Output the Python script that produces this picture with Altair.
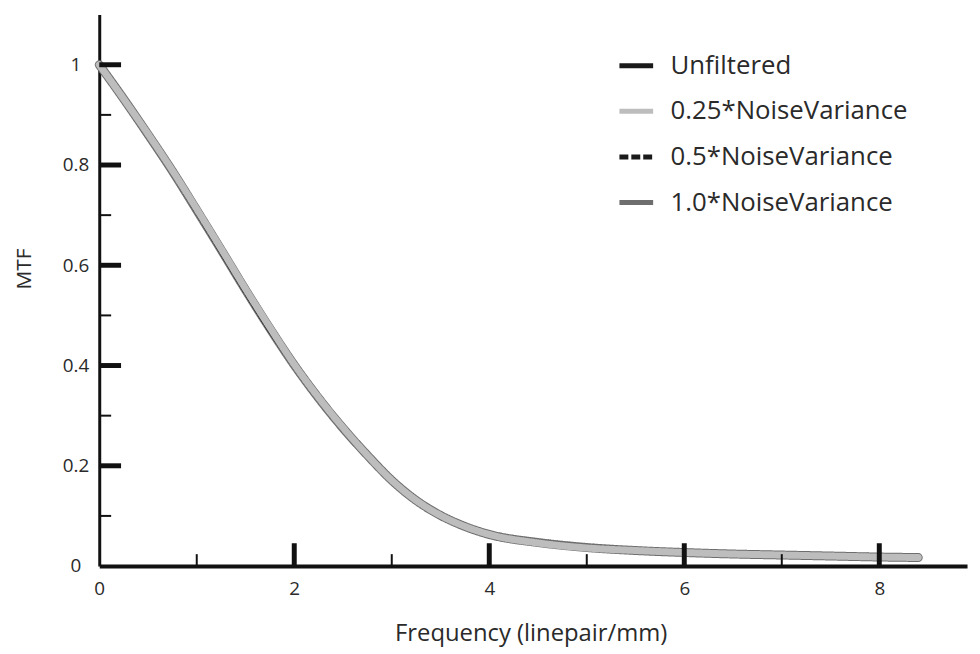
import altair as alt
import pandas as pd

# ---- data ----
freq = [0, 0.25, 0.5, 0.75, 1.0, 1.25, 1.5, 1.75, 2.0, 2.25, 2.5, 2.75, 3.0,
        3.25, 3.5, 3.75, 4.0, 4.5, 5.0, 5.5, 6.0, 6.5, 7.0, 7.5, 8.0, 8.4]
unfiltered = [1.0, 0.930, 0.858, 0.783, 0.705, 0.625, 0.545, 0.468, 0.396, 0.331,
              0.272, 0.218, 0.168, 0.129, 0.099, 0.077, 0.061, 0.045, 0.035, 0.030,
              0.026, 0.023, 0.021, 0.019, 0.017, 0.016]
nv025 = [1.0, 0.932, 0.862, 0.789, 0.712, 0.633, 0.553, 0.476, 0.402, 0.336,
         0.276, 0.221, 0.171, 0.131, 0.101, 0.079, 0.063, 0.046, 0.036, 0.031,
         0.027, 0.024, 0.022, 0.020, 0.018, 0.017]
nv05 = [1.0, 0.929, 0.857, 0.782, 0.704, 0.624, 0.544, 0.467, 0.396, 0.331,
        0.272, 0.219, 0.169, 0.130, 0.100, 0.078, 0.062, 0.046, 0.036, 0.031,
        0.027, 0.024, 0.022, 0.020, 0.018, 0.017]
nv10 = [1.0, 0.932, 0.861, 0.788, 0.710, 0.631, 0.551, 0.474, 0.401, 0.335,
        0.275, 0.221, 0.171, 0.131, 0.101, 0.079, 0.063, 0.047, 0.037, 0.031,
        0.027, 0.024, 0.022, 0.020, 0.018, 0.017]

series_names = ["Unfiltered", "0.25*NoiseVariance", "0.5*NoiseVariance", "1.0*NoiseVariance"]
series_values = [unfiltered, nv025, nv05, nv10]
series_colors = ["#1a1a1a", "#bdbdbd", "#1a1a1a", "#6e6e6e"]
series_dash = [[1, 0], [1, 0], [9, 3], [1, 0]]

x_major = [2, 4, 6, 8]
x_minor = [1, 3, 5, 7]
y_major = [0.2, 0.4, 0.6, 0.8, 1.0]
y_minor = [0.1, 0.3, 0.5, 0.7, 0.9]
x_labels = [0, 2, 4, 6, 8]
y_labels = [0, 0.2, 0.4, 0.6, 0.8, 1]

rows = []
for name, vals in zip(series_names, series_values):
    for f, v in zip(freq, vals):
        rows.append({"series": name, "freq": f, "mtf": v})
df = pd.DataFrame(rows)

FONT = "Open Sans"
xscale = alt.Scale(domain=[0, 8.9], nice=False, zero=False)
yscale = alt.Scale(domain=[0, 1.1], nice=False)

legend = alt.Legend(
    title=None, orient="none", legendX=522, legendY=32,
    symbolType="stroke", symbolSize=1156, symbolStrokeWidth=5,
    labelFont=FONT, labelFontSize=26, labelColor="#2a2a2a",
    labelOffset=15, rowPadding=13, padding=0, labelLimit=400,
)
color = alt.Color("series:N", scale=alt.Scale(domain=series_names, range=series_colors), legend=legend)
dash = alt.StrokeDash("series:N", scale=alt.Scale(domain=series_names, range=series_dash), legend=legend)

x_axis = alt.Axis(
    values=x_labels, format="~g", title="Frequency (linepair/mm)", ticks=False, grid=False,
    domainColor="#111", domainWidth=4, labelFont=FONT, labelFontSize=19,
    labelColor="#2a2a2a", labelPadding=14, labelFlush=False,
    titleFont=FONT, titleFontSize=24, titleFontWeight="normal", titleColor="#2a2a2a",
    titleX=435, titleY=68, titleBaseline="middle", titleAnchor="middle",
)
y_axis = alt.Axis(
    values=y_labels, format="~g", title="MTF", ticks=False, grid=False,
    domainColor="#111", domainWidth=3, labelFont=FONT, labelFontSize=19,
    labelColor="#2a2a2a", labelPadding=24, labelAlign="center", labelBaseline="middle",
    labelFlush=False,
    titleFont=FONT, titleFontSize=21, titleFontWeight="normal", titleColor="#2a2a2a",
    titleX=-75, titleY=256, titleAngle=270, titleBaseline="middle", titleAnchor="middle",
)
x_enc = alt.X("freq:Q", scale=xscale, axis=x_axis)
y_enc = alt.Y("mtf:Q", scale=yscale, axis=y_axis)

def series_layer(name, width):
    return alt.Chart(df).transform_filter(alt.datum.series == name).mark_line(
        strokeWidth=width, interpolate="monotone", strokeCap="round", strokeJoin="round"
    ).encode(x=x_enc, y=y_enc, color=color, strokeDash=dash)

lines = [
    series_layer("1.0*NoiseVariance", 9),
    series_layer("Unfiltered", 3),
    series_layer("0.5*NoiseVariance", 3),
    series_layer("0.25*NoiseVariance", 7),
]

def yticks(vals, length, width):
    return alt.Chart(pd.DataFrame({"mtf": vals})).mark_rule(color="#111", strokeWidth=width).encode(
        y=alt.Y("mtf:Q", scale=yscale, axis=y_axis), x=alt.value(0), x2=alt.value(length))

def xticks(vals, length, width):
    return alt.Chart(pd.DataFrame({"freq": vals})).mark_rule(color="#111", strokeWidth=width).encode(
        x=alt.X("freq:Q", scale=xscale, axis=x_axis), y=alt.value(556), y2=alt.value(556 - length))

ticks = [yticks(y_major, 22, 5), yticks(y_minor, 12, 2), xticks(x_major, 23, 5), xticks(x_minor, 12, 2)]

chart = alt.layer(*lines, *ticks).properties(
    width=875, height=556,
    autosize=alt.AutoSizeParams(type="none"),
    padding={"left": 92, "top": 4, "right": 5, "bottom": 86},
    background="white",
).configure_view(stroke="transparent", strokeWidth=0)

chart.save("out.html", embed_options={"renderer": "svg", "actions": False})
